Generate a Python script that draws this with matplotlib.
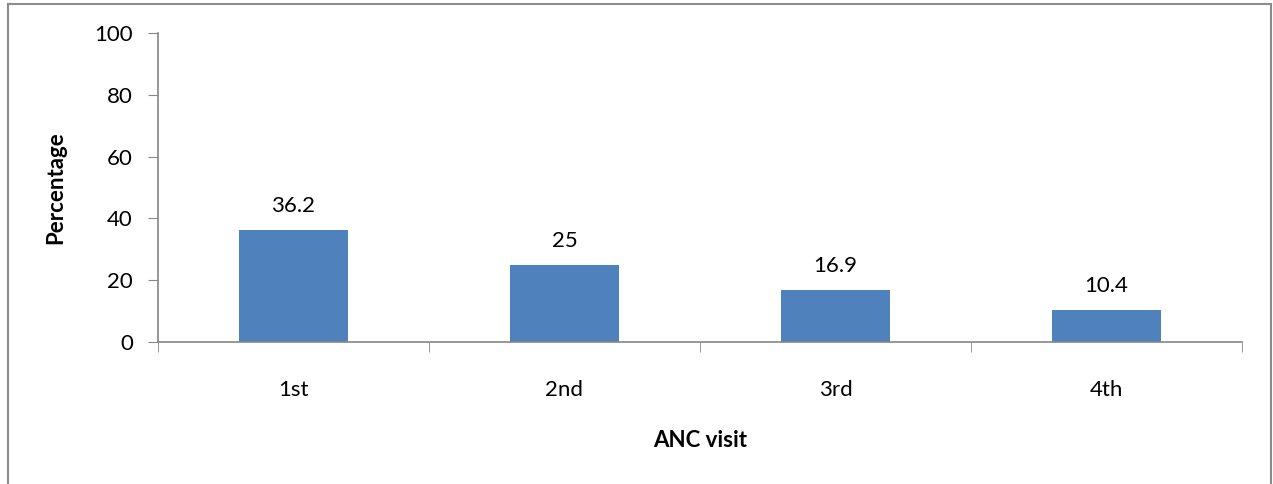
import matplotlib
matplotlib.use('Agg')
import matplotlib.pyplot as plt
from matplotlib.lines import Line2D

# data
visits = ['1st', '2nd', '3rd', '4th']
percentages = [36.2, 25, 16.9, 10.4]
value_labels = ['36.2', '25', '16.9', '10.4']

plt.rcParams['font.family'] = ['Lato', 'DejaVu Sans']
fs = 16

W, H = 1273, 484
fig = plt.figure(figsize=(W / 100, H / 100), dpi=100)
ax = fig.add_axes([158 / W, 1 - 342 / H, (1242 - 158) / W, (342 - 33) / H])

axis_grey = '#868686'
x = list(range(len(visits)))
ax.bar(x, percentages, width=0.40, color='#4F81BD', zorder=2)

for xi, v, lab in zip(x, percentages, value_labels):
    ax.annotate(lab, (xi, v), xytext=(0, 10), textcoords='offset points',
                ha='center', va='bottom', fontsize=fs)

ax.set_xlim(-0.5, len(visits) - 0.5)
ax.set_ylim(0, 100)
ax.set_yticks([0, 20, 40, 60, 80, 100])
ax.set_xticks(x)
ax.set_xticklabels(visits)
ax.set_xticks([i - 0.5 for i in range(len(visits) + 1)], minor=True)

ax.tick_params(axis='y', direction='out', length=7, color=axis_grey, labelsize=fs, pad=11)
ax.tick_params(axis='x', which='major', length=0, labelsize=fs, pad=27)
ax.tick_params(axis='x', which='minor', direction='out', length=7, color=axis_grey)

for side in ['top', 'right']:
    ax.spines[side].set_visible(False)
for side in ['left', 'bottom']:
    ax.spines[side].set_color(axis_grey)
    ax.spines[side].set_linewidth(1.2)

ax.set_ylabel('Percentage', fontsize=fs, fontweight='bold', labelpad=20)
ax.set_xlabel('ANC visit', fontsize=fs, fontweight='bold', labelpad=22)

# outer chart border (bottom edge is off the image)
bx0, bx1, by0 = 7.5 / W, 1271 / W, 1 - 3.5 / H
for xs, ys in [([bx0, bx0], [-0.1, by0]), ([bx0, bx1], [by0, by0]), ([bx1, bx1], [by0, -0.1])]:
    fig.add_artist(Line2D(xs, ys, transform=fig.transFigure, color='#8c8c8c', lw=1.5))

fig.savefig('out.png', dpi=100)
